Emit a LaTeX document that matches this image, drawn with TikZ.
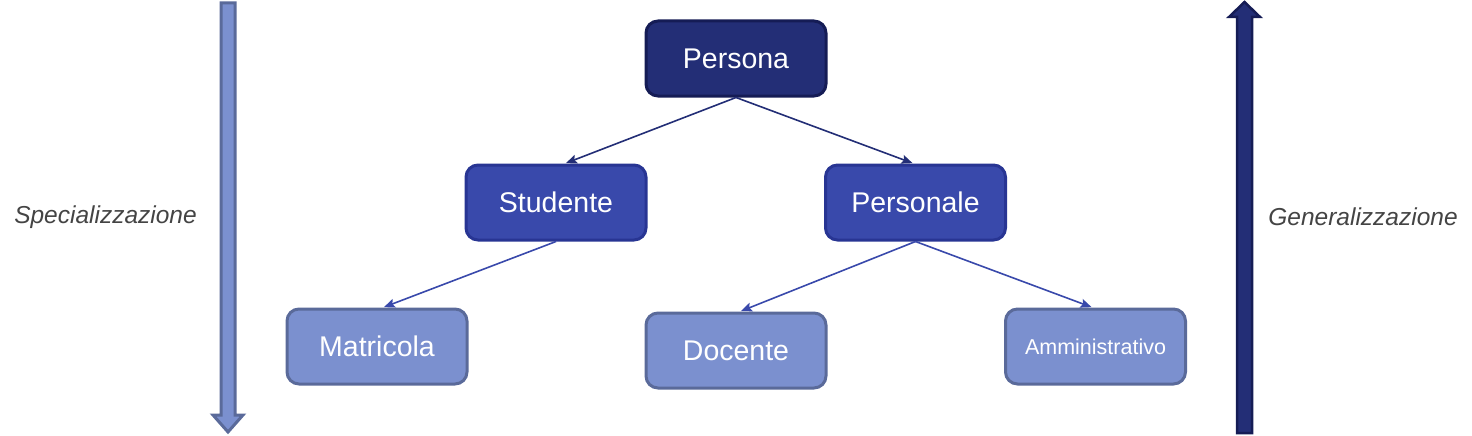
\documentclass[tikz,border=0pt]{standalone}
\usepackage{fontspec}
\setmainfont{Liberation Sans}
\usetikzlibrary{arrows.meta}
\definecolor{darkfill}{HTML}{232E76}
\definecolor{darkline}{HTML}{151C55}
\definecolor{midfill}{HTML}{3949AB}
\definecolor{midline}{HTML}{283593}
\definecolor{lightfill}{HTML}{7B90CF}
\definecolor{lightline}{HTML}{5A6A9A}
\definecolor{labelgray}{HTML}{444444}
\tikzset{
  box/.style={rounded corners=12pt, line width=3pt, minimum width=180pt, minimum height=75pt, text=white, inner sep=0pt},
  lvlone/.style={box, fill=darkfill, draw=darkline},
  lvltwo/.style={box, fill=midfill, draw=midline},
  lvlthree/.style={box, fill=lightfill, draw=lightline},
  bigtext/.style={font=\fontsize{28.5}{32}\selectfont},
  conn/.style={line width=1.6pt, -{Stealth[length=11pt,width=9pt,inset=2pt]}, shorten >=1pt},
  sidelabel/.style={text=labelgray, font=\fontsize{24.5}{28}\selectfont\itshape}
}
\begin{document}
\begin{tikzpicture}[x=1pt,y=-1pt]
\useasboundingbox (0,0) rectangle (1472,436);
% side arrows
\draw[fill=lightfill, draw=lightline, line width=3pt, line join=miter]
  (221,3) -- (235,3) -- (235,415) -- (243,415) -- (228,432) -- (213,415) -- (221,415) -- cycle;
\draw[fill=darkfill, draw=darkline, line width=2.5pt, line join=miter]
  (1237,433) -- (1252,433) -- (1252,17) -- (1260,17) -- (1244.5,2) -- (1229,17) -- (1237,17) -- cycle;
\node[sidelabel] (spec) at (105.5,217) {Specializzazione};
\node[sidelabel] (gen) at (1363,217) {Generalizzazione};
% nodes
\node[lvlone, bigtext] (persona) at (736,58.5) {Persona};
\node[lvltwo, bigtext] (studente) at (556,202.5) {Studente};
\node[lvltwo, bigtext] (personale) at (915.5,202.5) {Personale};
\node[lvlthree, bigtext] (matricola) at (377,346.5) {Matricola};
\node[lvlthree, bigtext] (docente) at (736,350.5) {Docente};
\node[lvlthree, font=\fontsize{21.5}{25}\selectfont] (ammin) at (1095.5,346.5) {Amministrativo};
% connectors
\draw[conn, draw=darkfill, fill=darkfill] (persona.south) -- ([xshift=9pt]studente.north);
\draw[conn, draw=darkfill, fill=darkfill] (persona.south) -- ([xshift=-2pt]personale.north);
\draw[conn, draw=midfill, fill=midfill] (studente.south) -- ([xshift=6pt]matricola.north);
\draw[conn, draw=midfill, fill=midfill] (personale.south) -- ([xshift=4pt]docente.north);
\draw[conn, draw=midfill, fill=midfill] (personale.south) -- ([xshift=-3pt]ammin.north);
\end{tikzpicture}
\end{document}
